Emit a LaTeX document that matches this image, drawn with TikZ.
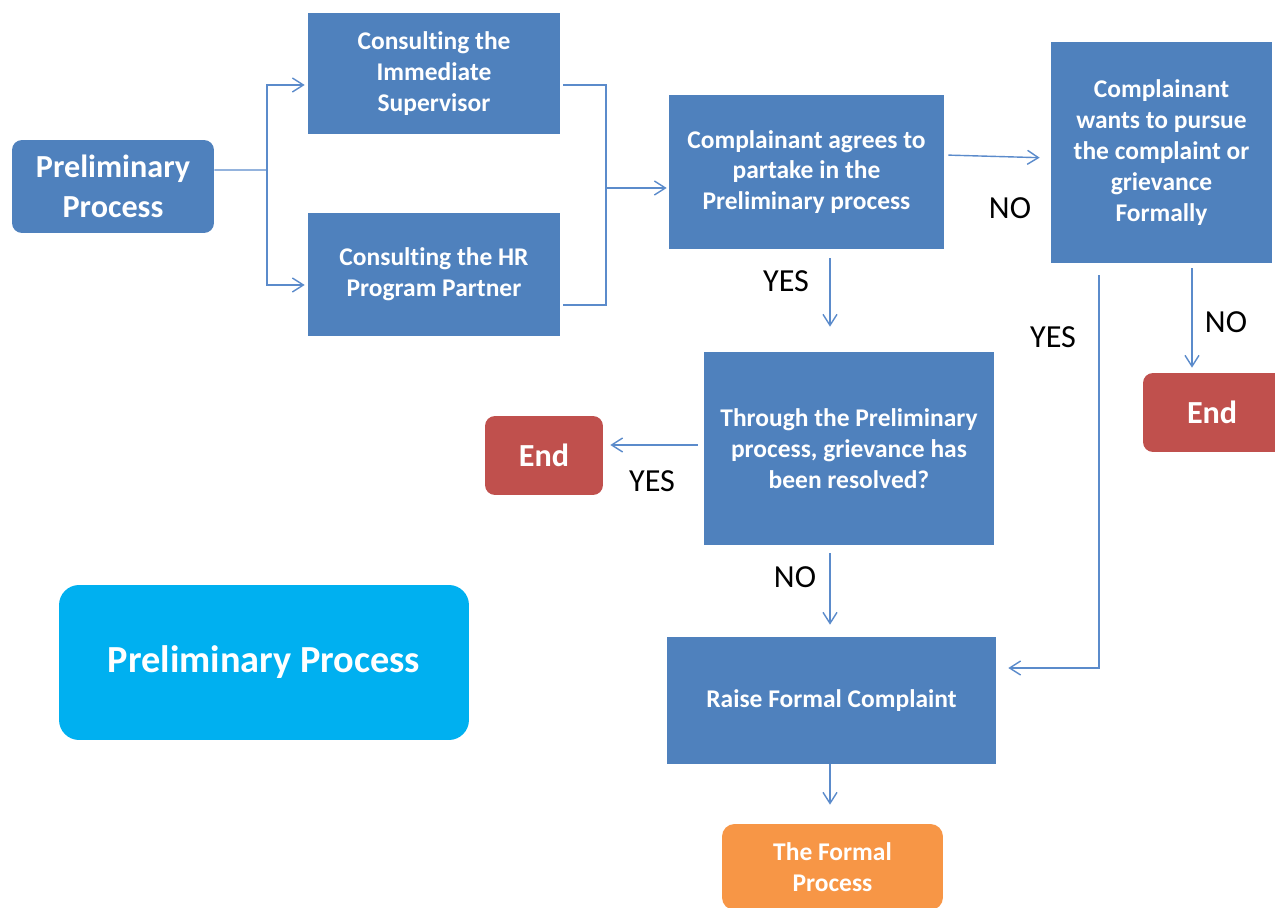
\documentclass[tikz,border=0pt]{standalone}
\usepackage{fontspec}
\setmainfont{Carlito}[Ligatures=NoCommon]
\usetikzlibrary{arrows.meta}
\definecolor{boxblue}{HTML}{4F81BD}
\definecolor{endred}{HTML}{C0504D}
\definecolor{formalorange}{HTML}{F79646}
\definecolor{titlecyan}{HTML}{00B0F0}
\definecolor{linkblue}{HTML}{5B8BCB}

\begin{document}
\begin{tikzpicture}[x=0.02cm, y=-0.02cm,
  stepbox/.style={fill=boxblue, text=white, align=center, inner sep=0pt,
    font=\bfseries\fontsize{14.5}{17.6}\selectfont},
  endbox/.style={fill=endred, text=white, rounded corners=0.2cm, inner sep=0pt,
    font=\bfseries\fontsize{18.3}{22}\selectfont},
  link/.style={draw=linkblue, line width=0.8pt},
  arrow/.style={link, -{Straight Barb[length=0.22cm, width=0.28cm]}},
  answer/.style={font=\fontsize{18.3}{22}\selectfont}]
\clip (0,0) rectangle (1275,908);

% Start and title nodes
\node[stepbox, rounded corners=0.2cm, minimum width=4.04cm, minimum height=1.86cm,
  font=\bfseries\fontsize{18.3}{22.8}\selectfont] (pre) at (113,186.5) {Preliminary\\Process};
\node[fill=titlecyan, text=white, rounded corners=0.4cm, minimum width=8.2cm, minimum height=3.1cm,
  font=\bfseries\fontsize{21.8}{25}\selectfont] (title) at (264,662.5) {Preliminary Process};

% Consulting nodes
\node[stepbox, minimum width=5.04cm, minimum height=2.42cm] (sup) at (434,73.5) {Consulting the\\Immediate\\Supervisor};
\node[stepbox, minimum width=5.04cm, minimum height=2.46cm] (hr) at (434,274.5) {Consulting the HR\\Program Partner};

% Decision nodes
\node[stepbox, minimum width=5.5cm, minimum height=3.08cm] (agree) at (806.5,172) {Complainant agrees to\\partake in the\\Preliminary process};
\node[stepbox, minimum width=4.42cm, minimum height=4.42cm] (wants) at (1161.5,152.5) {Complainant\\wants to pursue\\the complaint or\\grievance\\Formally};
\node[stepbox, minimum width=5.8cm, minimum height=3.86cm] (thru) at (849,448.5) {Through the Preliminary\\process, grievance has\\been resolved?};
\node[stepbox, minimum width=6.58cm, minimum height=2.54cm] (raise) at (831.5,700.5) {Raise Formal Complaint};

% End nodes
\node[endbox, minimum width=2.36cm, minimum height=1.58cm] (endA) at (544,455.5) {End};
\node[endbox, minimum width=2.84cm, minimum height=1.58cm, text width=2.64cm, align=left] (endB) at (1214,412.5) {\hspace{0.78cm}End};
\node[fill=formalorange, text=white, rounded corners=0.25cm, minimum width=4.42cm, minimum height=1.72cm,
  align=center, font=\bfseries\fontsize{14.5}{17.6}\selectfont] (formal) at (832.5,867) {The Formal\\Process};

% Fork and merge links
\coordinate (forkA) at (267,170);
\coordinate (mergeB) at (606,188);
\draw[link] ([yshift=0.33cm]pre.east) -- (forkA);
\draw[arrow, shorten >=0.06cm] (forkA) |- ([yshift=-0.23cm]sup.west);
\draw[arrow, shorten >=0.06cm] (forkA) |- ([yshift=-0.21cm]hr.west);
\draw[link, shorten <=0.06cm] ([yshift=-0.23cm]sup.east) -| (mergeB);
\draw[link, shorten <=0.06cm] ([yshift=-0.61cm]hr.east) -| (mergeB);
\draw[arrow, shorten >=0.04cm] (mergeB) -- (agree.west |- mergeB);

% Decision links
\draw[arrow, shorten <=0.08cm, shorten >=0.22cm] ([yshift=0.34cm]agree.east) -- ([yshift=-0.11cm]wants.west);
\draw[arrow, shorten <=0.18cm, shorten >=0.5cm] ([xshift=0.47cm]agree.south) -- ([xshift=0.47cm]agree.south |- thru.north);
\draw[arrow, shorten <=0.12cm, shorten >=0.14cm] ([yshift=0.07cm]thru.west) -- ([yshift=0.07cm]thru.west -| endA.east);
\draw[arrow, shorten <=0.1cm, shorten >=0.1cm] ([xshift=0.61cm]wants.south) -- ([xshift=0.61cm]wants.south |- endB.north);
\draw[arrow, shorten <=0.24cm, shorten >=0.24cm] ([xshift=-1.25cm]wants.south) |- ([yshift=0.65cm]raise.east);
\draw[arrow, shorten <=0.16cm, shorten >=0.24cm] ([xshift=-0.38cm]thru.south) -- ([xshift=-0.38cm]thru.south |- raise.north);
\draw[arrow, shorten >=0.38cm] ([xshift=-0.03cm]raise.south) -- ([xshift=-0.03cm]raise.south |- formal.north);

% Answer labels
\node[answer] (noA) at (1010,208) {NO};
\node[answer] (yesA) at (786,281) {YES};
\node[answer] (yesB) at (652,481) {YES};
\node[answer] (noB) at (1226,322) {NO};
\node[answer] (yesC) at (1053,337) {YES};
\node[answer] (noC) at (795,577) {NO};
\end{tikzpicture}
\end{document}
